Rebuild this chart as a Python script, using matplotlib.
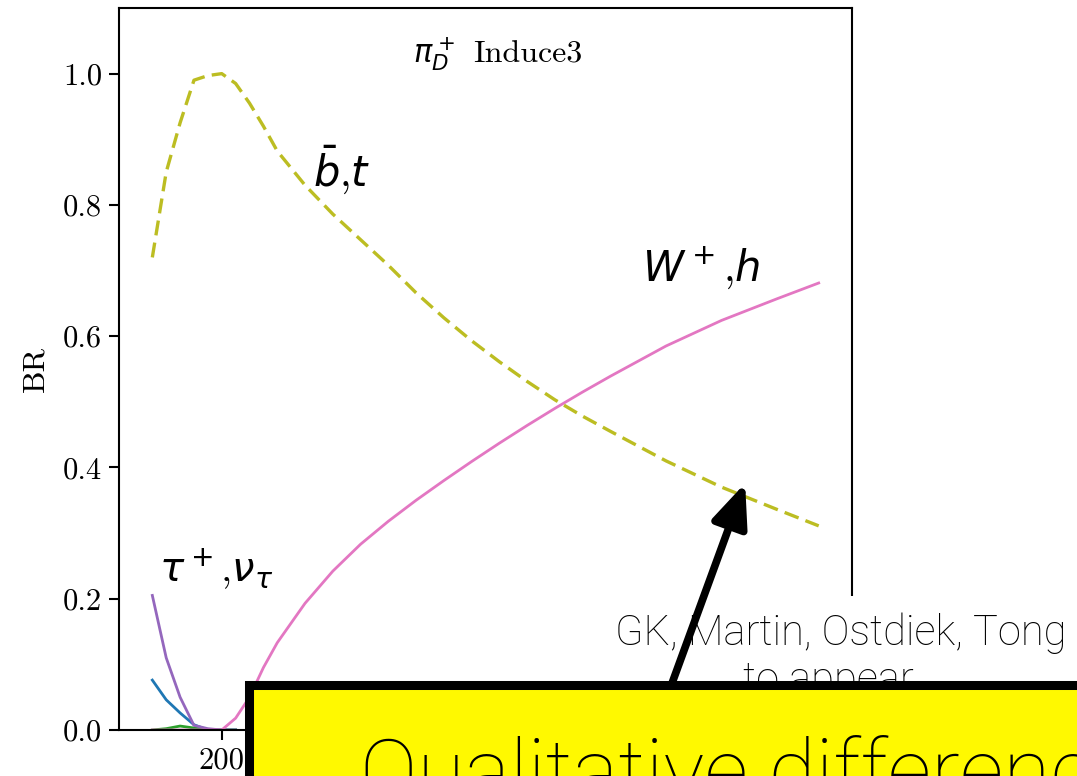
import matplotlib
matplotlib.use("Agg")
import matplotlib.pyplot as plt
from matplotlib.patches import Rectangle, ConnectionPatch

plt.rcParams['font.family'] = 'cmr10'
plt.rcParams['mathtext.fontset'] = 'dejavusans'

# pi_D^+ mass points (GeV) and branching ratios per channel
mass_low = [150, 160, 170, 180, 190, 200, 210]
br_tau_nu = [0.205, 0.11, 0.05, 0.007, 0.002, 0.0, 0.0]
br_cs = [0.076, 0.046, 0.026, 0.008, 0.0, 0.0, 0.0]
br_other = [0.0, 0.002, 0.006, 0.003, 0.0, 0.0, 0.0]

mass = [150, 160, 170, 180, 190, 200, 210, 220, 230, 240, 260, 280, 300,
        320, 340, 360, 380, 400, 420, 440, 460, 480, 520, 560, 600, 630]
br_bt = [0.72, 0.85, 0.925, 0.99, 0.997, 1.0, 0.985, 0.955, 0.92, 0.882,
         0.830, 0.786, 0.747, 0.708, 0.666, 0.628, 0.593, 0.561, 0.531,
         0.503, 0.478, 0.455, 0.410, 0.370, 0.336, 0.311]
br_wh = [0.0, 0.0, 0.0, 0.0, 0.0, 0.0, 0.018, 0.05, 0.095, 0.133, 0.193,
         0.242, 0.283, 0.318, 0.350, 0.380, 0.409, 0.437, 0.464, 0.490,
         0.515, 0.539, 0.585, 0.624, 0.657, 0.681]

fig = plt.figure(figsize=(10.77, 7.76), dpi=100)
ax = fig.add_axes([0.1105, 0.0593, 0.6806, 0.9304])

ax.plot(mass_low, br_cs, color='C0', lw=2.0)
ax.plot(mass_low, br_other, color='C2', lw=2.0)
ax.plot(mass_low, br_tau_nu, color='C4', lw=2.0)
ax.plot(mass, br_wh, color='C6', lw=2.0)
ax.plot(mass, br_bt, color='C8', lw=2.4, ls=(0, (4.5, 2.2)))

ax.set_ylim(0, 1.1)
ax.set_yticks([0.0, 0.2, 0.4, 0.6, 0.8, 1.0])
ax.set_ylabel('BR', fontsize=23, labelpad=10)
ax.tick_params(labelsize=22, length=7, width=1.5, pad=5)
for sp in ax.spines.values():
    sp.set_linewidth(1.5)

ax.text(265.7, 0.8295, r'$\bar{b}$,$t$', fontsize=30)
ax.text(502.7, 0.685, r'$W^+$,$h$', fontsize=30)
ax.text(155, 0.2253, r'$\tau^+$,$\nu_\tau$', fontsize=29)
ax.text(0.401, 0.925, r'$\pi_D^+$', fontsize=22, transform=ax.transAxes)
ax.text(0.483, 0.925, 'Induce3', fontsize=23, transform=ax.transAxes)

# slide overlay: citation, arrow and highlight box
fig.patches.append(Rectangle((600 / 1077, 0.0), 477 / 1077, 180 / 776,
                             transform=fig.transFigure, facecolor='white',
                             edgecolor='none', zorder=3))
fig.text(841 / 1077, 1 - 645 / 776, 'GK, Martin, Ostdiek, Tong',
         ha='center', va='baseline', fontsize=30, family='Roboto',
         fontweight='light', color='black', zorder=4)
fig.text(828 / 1077, 1 - 692 / 776, 'to appear',
         ha='center', va='baseline', fontsize=30, family='Roboto',
         fontweight='light', color='black', zorder=4)
arrow = ConnectionPatch(xyA=(671, 90), coordsA='figure pixels',
                        xyB=(577, 0.376), coordsB=ax.transData,
                        arrowstyle='-|>,head_length=1.3,head_width=0.55',
                        mutation_scale=20, lw=5.5, color='black',
                        shrinkA=0, shrinkB=0, zorder=5)
fig.add_artist(arrow)
fig.patches.append(Rectangle((249 / 1077, -0.05), 1.0, 1 - 685 / 776 + 0.05,
                             transform=fig.transFigure, facecolor='#FFF900',
                             edgecolor='black', lw=6.5, zorder=6))
fig.text(360 / 1077, -24 / 776, 'Qualitative differences', ha='left',
         va='baseline', fontsize=62, family='Roboto', fontweight='light',
         color='black', zorder=7)

fig.savefig('out.png', dpi=100)
